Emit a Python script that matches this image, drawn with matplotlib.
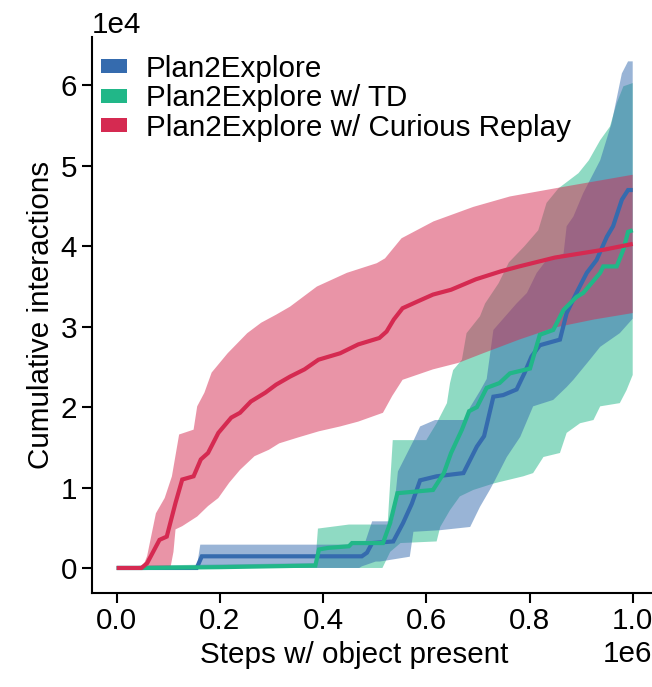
import matplotlib
matplotlib.use("Agg")
import matplotlib.pyplot as plt
from matplotlib.patches import Patch
import numpy as np

plt.rcParams["font.family"] = ["Liberation Sans", "DejaVu Sans"]
plt.rcParams["font.size"] = 21.3

# ---------------- data (x in 1e6 steps, y in 1e4 interactions) ----------------
labels = ["Plan2Explore", "Plan2Explore w/ TD", "Plan2Explore w/ Curious Replay"]
colors = ["#356BAE", "#21B788", "#D52A51"]

# Plan2Explore (blue)
blue_mean_x = [0, 0.155, 0.165, 0.475, 0.485, 0.495, 0.536, 0.555, 0.572, 0.588, 0.620, 0.672, 0.698,
               0.712, 0.730, 0.749, 0.775, 0.790, 0.804, 0.820, 0.859, 0.872, 0.891, 0.911, 0.930, 0.950,
               0.962, 0.979, 0.991, 1.0]
blue_mean_y = [0, 0, 0.145, 0.145, 0.19, 0.31, 0.33, 0.56, 0.80, 1.09, 1.14, 1.18, 1.51,
               1.64, 2.13, 2.15, 2.22, 2.42, 2.63, 2.77, 2.84, 3.17, 3.42, 3.67, 3.83, 4.12,
               4.25, 4.58, 4.70, 4.70]
blue_up_x = [0, 0.155, 0.162, 0.48, 0.495, 0.535, 0.545, 0.575, 0.588, 0.617, 0.678, 0.685, 0.704,
             0.717, 0.723, 0.730, 0.775, 0.795, 0.814, 0.833, 0.866, 0.872, 0.885, 0.904, 0.937,
             0.959, 0.979, 0.991, 1.0]
blue_up_y = [0, 0, 0.29, 0.29, 0.58, 0.58, 1.2, 1.58, 1.76, 1.84, 1.84, 2.0, 2.2,
             2.35, 2.63, 2.96, 3.29, 3.42, 3.67, 3.83, 3.91, 4.25, 4.37, 4.66, 5.07,
             5.53, 6.15, 6.30, 6.30]
blue_lo_x = [0, 0.47, 0.475, 0.502, 0.51, 0.568, 0.575, 0.627, 0.685, 0.704, 0.723, 0.733, 0.756,
             0.782, 0.807, 0.846, 0.872, 0.885, 0.917, 0.937, 0.975, 1.0]
blue_lo_y = [0, 0, 0.02, 0.08, 0.08, 0.14, 0.45, 0.47, 0.51, 0.76, 0.97, 1.09, 1.38,
             1.63, 2.01, 2.09, 2.25, 2.34, 2.59, 2.75, 2.92, 3.10]

# Plan2Explore w/ TD (green)
green_mean_x = [0, 0.05, 0.2, 0.385, 0.392, 0.41, 0.45, 0.456, 0.516, 0.530, 0.544, 0.613, 0.634,
                0.648, 0.669, 0.683, 0.698, 0.717, 0.742, 0.762, 0.801, 0.820, 0.846, 0.866, 0.891,
                0.904, 0.937, 0.943, 0.969, 0.982, 0.991, 1.0]
green_mean_y = [0, 0, 0.01, 0.03, 0.23, 0.25, 0.27, 0.31, 0.31, 0.56, 0.93, 0.97, 1.18,
                1.43, 1.72, 1.95, 2.0, 2.24, 2.30, 2.42, 2.48, 2.90, 2.96, 3.21, 3.37,
                3.42, 3.67, 3.75, 3.75, 3.96, 4.18, 4.20]
green_up_x = [0, 0.05, 0.385, 0.39, 0.45, 0.525, 0.535, 0.60, 0.62, 0.64, 0.646, 0.652, 0.669,
              0.678, 0.704, 0.714, 0.740, 0.76, 0.79, 0.817, 0.833, 0.856, 0.895, 0.915, 0.937,
              0.956, 0.969, 0.982, 1.0]
green_up_y = [0, 0.03, 0.06, 0.49, 0.54, 0.54, 1.59, 1.59, 1.8, 2.05, 2.30, 2.46, 2.59,
              2.92, 3.13, 3.29, 3.54, 3.8, 4.0, 4.2, 4.54, 4.72, 4.91, 5.07, 5.32,
              5.49, 5.78, 5.99, 6.03]
green_lo_x = [0, 0.515, 0.53, 0.55, 0.62, 0.627, 0.646, 0.665, 0.691, 0.730, 0.788, 0.807, 0.827,
              0.859, 0.872, 0.898, 0.924, 0.937, 0.975, 0.988, 1.0]
green_lo_y = [0, 0, 0.2, 0.31, 0.33, 0.51, 0.72, 0.89, 0.97, 1.05, 1.14, 1.18, 1.38,
              1.43, 1.68, 1.80, 1.84, 2.01, 2.05, 2.21, 2.40]

# Plan2Explore w/ Curious Replay (red)
red_mean_x = [0, 0.048, 0.059, 0.083, 0.097, 0.114, 0.127, 0.149, 0.163, 0.177, 0.197, 0.222, 0.239,
              0.260, 0.288, 0.309, 0.336, 0.364, 0.391, 0.433, 0.468, 0.509, 0.523, 0.537, 0.554,
              0.585, 0.613, 0.648, 0.696, 0.745, 0.780, 0.849, 0.946, 1.0]
red_mean_y = [0, 0, 0.06, 0.35, 0.39, 0.81, 1.10, 1.14, 1.35, 1.43, 1.68, 1.87, 1.93,
              2.07, 2.18, 2.28, 2.38, 2.47, 2.59, 2.67, 2.78, 2.86, 2.94, 3.09, 3.23,
              3.32, 3.40, 3.46, 3.59, 3.69, 3.75, 3.86, 3.96, 4.03]
red_up_x = [0, 0.05, 0.059, 0.076, 0.093, 0.107, 0.121, 0.149, 0.156, 0.170, 0.184, 0.215, 0.253,
            0.28, 0.309, 0.336, 0.388, 0.446, 0.504, 0.52, 0.552, 0.614, 0.691, 0.762, 0.866, 1.0]
red_up_y = [0, 0, 0.15, 0.68, 0.87, 1.14, 1.66, 1.72, 2.01, 2.18, 2.43, 2.67, 2.92,
            3.05, 3.15, 3.25, 3.50, 3.67, 3.79, 3.85, 4.10, 4.31, 4.49, 4.62, 4.74, 4.89]
red_lo_x = [0, 0.104, 0.110, 0.114, 0.127, 0.156, 0.177, 0.197, 0.218, 0.239, 0.267, 0.295, 0.315,
            0.350, 0.392, 0.433, 0.468, 0.516, 0.534, 0.554, 0.613, 0.662, 0.710, 0.780, 0.849,
            0.925, 1.0]
red_lo_y = [0, 0, 0.2, 0.48, 0.52, 0.64, 0.77, 0.87, 1.06, 1.22, 1.39, 1.47, 1.55,
            1.62, 1.70, 1.76, 1.82, 1.93, 2.14, 2.34, 2.47, 2.55, 2.67, 2.84, 2.99,
            3.09, 3.17]

xticks = [0.0, 0.2, 0.4, 0.6, 0.8, 1.0]
yticks = [0, 1, 2, 3, 4, 5, 6]

SX, SY = 1e6, 1e4


def band(ax, xu, yu, xl, yl, color):
    px = np.concatenate([np.asarray(xu), np.asarray(xl)[::-1]]) * SX
    py = np.concatenate([np.asarray(yu), np.asarray(yl)[::-1]]) * SY
    ax.fill(px, py, color=color, alpha=0.5, lw=0)


def line(ax, x, y, color):
    ax.plot(np.asarray(x) * SX, np.asarray(y) * SY, color=color, lw=3,
            solid_joinstyle="miter", solid_capstyle="butt")


W, H = 652, 687
fig = plt.figure(figsize=(W / 100, H / 100), dpi=100)
ax = fig.add_axes([91.7 / W, (H - 592.5) / H, (W - 91.7) / W, (592.5 - 37) / H])

band(ax, green_up_x, green_up_y, green_lo_x, green_lo_y, colors[1])
band(ax, blue_up_x, blue_up_y, blue_lo_x, blue_lo_y, colors[0])
line(ax, blue_mean_x, blue_mean_y, colors[0])
line(ax, green_mean_x, green_mean_y, colors[1])
band(ax, red_up_x, red_up_y, red_lo_x, red_lo_y, colors[2])
line(ax, red_mean_x, red_mean_y, colors[2])

ax.set_xlim(-0.04845 * SX, 1.0374 * SX)
ax.set_ylim(-0.305 * SY, 6.603 * SY)
ax.set_xticks(np.array(xticks) * SX)
ax.set_yticks(np.array(yticks) * SY)
ax.ticklabel_format(style="sci", axis="both", scilimits=(0, 0))

for s in ["top", "right"]:
    ax.spines[s].set_visible(False)
for s in ["left", "bottom"]:
    ax.spines[s].set_linewidth(1.5)
ax.tick_params(width=1.5, length=7.2)

ax.set_xlabel("Steps w/ object present", x=0.468)
ax.set_ylabel("Cumulative interactions")

handles = [Patch(facecolor=c, edgecolor="none") for c in colors]
ax.legend(handles, labels, loc="upper left", frameon=False, borderaxespad=0.0,
          bbox_to_anchor=(0.0, 1.0 - 9.0 / 555.5),
          borderpad=0.3, handlelength=0.88, handleheight=0.34, handletextpad=0.64,
          labelspacing=0.05)

fig.savefig("out.png", dpi=100)
